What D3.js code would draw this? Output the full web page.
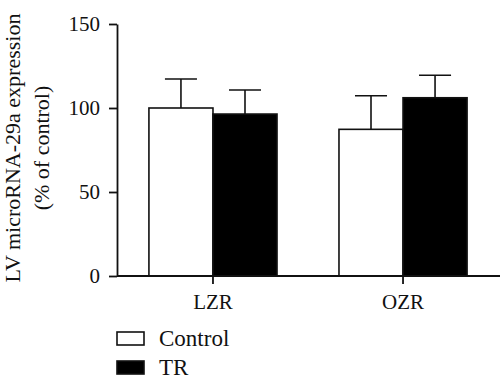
<!DOCTYPE html>
<html>
<head>
<meta charset="utf-8">
<script src="https://cdn.jsdelivr.net/npm/d3@7"></script>
<style>
  html, body { margin: 0; padding: 0; background: #fff; }
  svg { display: block; }
  text { font-family: "Liberation Serif", "DejaVu Serif", serif; fill: #111; }
</style>
</head>
<body>
<svg id="chart" width="500" height="383"></svg>
<script>
const groups = ["LZR", "OZR"];
const seriesNames = ["Control", "TR"];
const seriesColors = ["#ffffff", "#000000"];
const controlValues = [100, 87.3];
const trValues = [96.4, 106.1];
const controlErr = [17.3, 20.0];
const trErr = [14.3, 13.4];
const yTicks = [0, 50, 100, 150];
const yLabelLines = ["LV microRNA-29a expression", "(% of control)"];

const data = groups.map((g, i) => ({
  group: g,
  bars: [
    { series: seriesNames[0], value: controlValues[i], err: controlErr[i] },
    { series: seriesNames[1], value: trValues[i], err: trErr[i] }
  ]
}));

const svg = d3.select("#chart");
const x0 = 117, x1 = 499, yTop = 24, yBottom = 276;

const y = d3.scaleLinear().domain([0, 150]).range([yBottom, yTop]);
const x = d3.scaleBand().domain(groups).range([x0, x1]).paddingInner(0.326).paddingOuter(0.168);
const xs = d3.scaleBand().domain(seriesNames).range([0, x.bandwidth()]).padding(0);
const color = d3.scaleOrdinal().domain(seriesNames).range(seriesColors);

// Bars
const g = svg.append("g");
const grp = g.selectAll("g.grp").data(data).join("g")
  .attr("transform", d => `translate(${x(d.group)},0)`);

grp.selectAll("rect").data(d => d.bars).join("rect")
  .attr("x", d => xs(d.series))
  .attr("y", d => y(d.value))
  .attr("width", xs.bandwidth())
  .attr("height", d => y(0) - y(d.value))
  .attr("fill", d => color(d.series))
  .attr("stroke", "#111")
  .attr("stroke-width", 1.6);

// Error bars (upper only)
const eb = grp.selectAll("g.eb").data(d => d.bars).join("g");
eb.append("line")
  .attr("x1", d => xs(d.series) + xs.bandwidth() / 2)
  .attr("x2", d => xs(d.series) + xs.bandwidth() / 2)
  .attr("y1", d => y(d.value))
  .attr("y2", d => y(d.value + d.err))
  .attr("stroke", "#111").attr("stroke-width", 1.6);
eb.append("line")
  .attr("x1", d => xs(d.series) + xs.bandwidth() / 4)
  .attr("x2", d => xs(d.series) + xs.bandwidth() * 3 / 4)
  .attr("y1", d => y(d.value + d.err))
  .attr("y2", d => y(d.value + d.err))
  .attr("stroke", "#111").attr("stroke-width", 1.6);

// Y axis
const yAxis = d3.axisLeft(y).tickValues(yTicks).tickSize(8).tickPadding(9).tickSizeOuter(0);
const ya = svg.append("g").attr("transform", `translate(${x0},0)`).call(yAxis);
ya.select(".domain").attr("stroke", "#111").attr("stroke-width", 1.8);
ya.selectAll(".tick line").attr("stroke", "#111").attr("stroke-width", 1.8);
ya.selectAll(".tick text").attr("font-size", 21).attr("font-family", "Liberation Serif").attr("fill", "#111");

// X axis
const xAxis = d3.axisBottom(x).tickSize(8).tickPadding(10).tickSizeOuter(0);
const xa = svg.append("g").attr("transform", `translate(0,${yBottom})`).call(xAxis);
xa.select(".domain").attr("d", `M${x0},0H500`).attr("stroke", "#111").attr("stroke-width", 1.8);
xa.selectAll(".tick line").attr("stroke", "#111").attr("stroke-width", 1.8);
xa.selectAll(".tick text").attr("font-size", 21).attr("font-family", "Liberation Serif").attr("fill", "#111");

// Y label
const yl = svg.append("text")
  .attr("transform", `translate(20,148) rotate(-90)`)
  .attr("text-anchor", "middle")
  .attr("font-size", 22);
yl.selectAll("tspan").data(yLabelLines).join("tspan")
  .attr("x", 0)
  .attr("dy", (d, i) => i === 0 ? 0 : 29)
  .text(d => d);

// Legend
const leg = svg.append("g");
const li = leg.selectAll("g").data(seriesNames).join("g")
  .attr("transform", (d, i) => `translate(117,${332 + i * 29})`);
li.append("rect")
  .attr("width", 27).attr("height", 13)
  .attr("fill", d => color(d))
  .attr("stroke", "#111").attr("stroke-width", 1.6);
li.append("text")
  .attr("x", 42).attr("y", 14)
  .attr("font-size", 23)
  .text(d => d);
</script>
</body>
</html>
